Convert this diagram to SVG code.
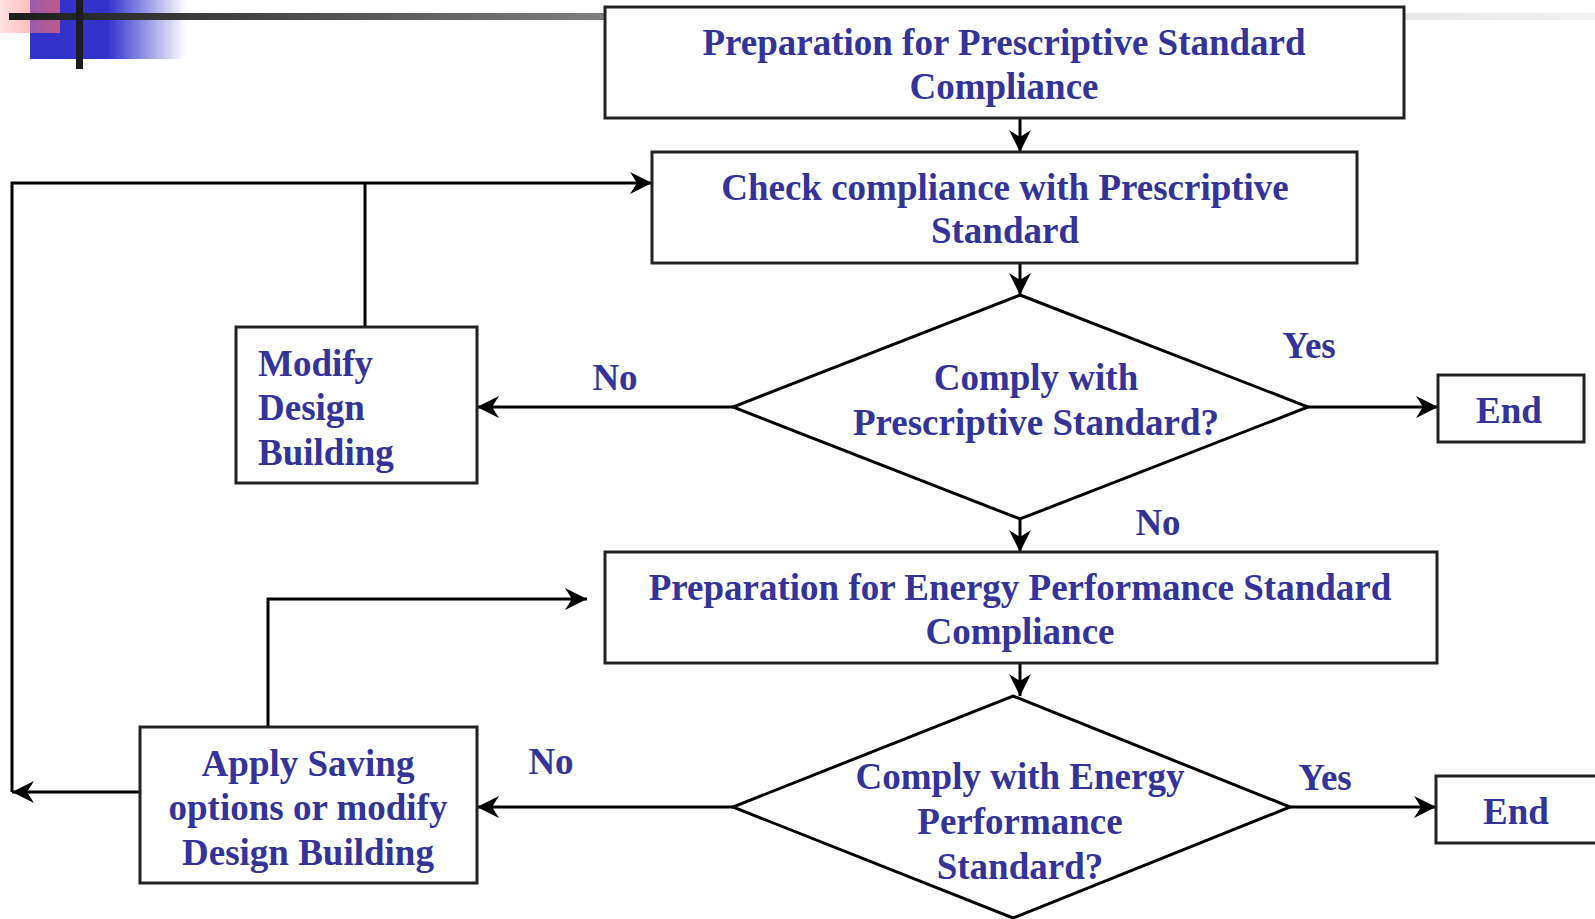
<svg xmlns="http://www.w3.org/2000/svg" width="1595" height="919" viewBox="0 0 1595 919">
  <style>
    .box { fill: #ffffff; stroke: #222222; stroke-width: 3; }
    .dia { fill: #ffffff; stroke: #000000; stroke-width: 3; stroke-linejoin: miter; }
    .wire { fill: none; stroke: #000000; stroke-width: 3; }
    .lbl { font-family: "Liberation Serif", "Times New Roman", serif; font-weight: bold; font-size: 37px; fill: #333399; }
    .mid { text-anchor: middle; }
  </style>
  <defs>
    <marker id="arrow" viewBox="0 0 22 22" refX="22" refY="11" markerWidth="22" markerHeight="22" markerUnits="userSpaceOnUse" orient="auto">
      <path d="M0,0 L22,11 L0,22 L7,11 Z" fill="#000000"/>
    </marker>
    <linearGradient id="barGrad" x1="0" y1="0" x2="1" y2="0">
      <stop offset="0" stop-color="#1c1c1c"/>
      <stop offset="0.38" stop-color="#808080"/>
      <stop offset="0.75" stop-color="#dcdcdc"/>
      <stop offset="1" stop-color="#f2f2f2"/>
    </linearGradient>
    <linearGradient id="blueGrad" x1="30" y1="0" x2="186" y2="0" gradientUnits="userSpaceOnUse">
      <stop offset="0" stop-color="#3333cc"/>
      <stop offset="0.5" stop-color="#3333cc"/>
      <stop offset="1" stop-color="#3333cc" stop-opacity="0"/>
    </linearGradient>
    <linearGradient id="pinkGrad" x1="0" y1="0" x2="60" y2="0" gradientUnits="userSpaceOnUse">
      <stop offset="0" stop-color="#ff9999" stop-opacity="0.3"/>
      <stop offset="1" stop-color="#ee6677" stop-opacity="0.75"/>
    </linearGradient>
  </defs>

  <!-- corner ornament -->
  <g id="ornament">
    <rect x="30" y="0" width="156" height="59" fill="url(#blueGrad)"/>
    <rect x="0" y="0" width="60" height="33" fill="url(#pinkGrad)"/>
    <rect x="9" y="13" width="1586" height="7" fill="url(#barGrad)"/>
    <rect x="76" y="0" width="7" height="69" fill="#1c1c1c"/>
  </g>

  <!-- connectors -->
  <g id="connectors">
    <line class="wire" x1="1020" y1="118" x2="1020" y2="152" marker-end="url(#arrow)"/>
    <line class="wire" x1="1020" y1="263" x2="1020" y2="295" marker-end="url(#arrow)"/>
    <line class="wire" x1="733" y1="407" x2="477" y2="407" marker-end="url(#arrow)"/>
    <line class="wire" x1="1308" y1="407" x2="1438" y2="407" marker-end="url(#arrow)"/>
    <line class="wire" x1="1020" y1="519" x2="1020" y2="552" marker-end="url(#arrow)"/>
    <line class="wire" x1="1020" y1="663" x2="1020" y2="696" marker-end="url(#arrow)"/>
    <line class="wire" x1="733" y1="807" x2="477" y2="807" marker-end="url(#arrow)"/>
    <line class="wire" x1="1290" y1="807" x2="1436" y2="807" marker-end="url(#arrow)"/>
    <!-- loop from Modify back to the check -->
    <polyline class="wire" points="365,327 365,183"/>
    <polyline class="wire" points="12,792 12,183 652,183" marker-end="url(#arrow)"/>
    <!-- loop from Apply back to energy preparation -->
    <polyline class="wire" points="268,727 268,599 587,599" marker-end="url(#arrow)"/>
    <!-- Apply out to the left return line -->
    <line class="wire" x1="140" y1="792" x2="12" y2="792" marker-end="url(#arrow)"/>
  </g>

  <g id="prep-prescriptive">
    <rect class="box" x="605" y="7" width="799" height="111"/>
    <text class="lbl mid" x="1004" y="55">Preparation for Prescriptive Standard</text>
    <text class="lbl mid" x="1004" y="99">Compliance</text>
  </g>

  <g id="check-prescriptive">
    <rect class="box" x="652" y="152" width="705" height="111"/>
    <text class="lbl mid" x="1005" y="200">Check compliance with Prescriptive</text>
    <text class="lbl mid" x="1005" y="243">Standard</text>
  </g>

  <g id="decision-prescriptive">
    <polygon class="dia" points="1020,295 1308,407 1020,519 733,407"/>
    <text class="lbl mid" x="1036" y="390">Comply with</text>
    <text class="lbl mid" x="1036" y="435">Prescriptive Standard?</text>
  </g>

  <g id="modify-design">
    <rect class="box" x="236" y="327" width="241" height="156"/>
    <text class="lbl" x="258" y="376">Modify</text>
    <text class="lbl" x="258" y="420">Design</text>
    <text class="lbl" x="258" y="465">Building</text>
  </g>

  <g id="end-1">
    <rect class="box" x="1438" y="375" width="146" height="67"/>
    <text class="lbl mid" x="1509" y="423">End</text>
  </g>

  <g id="prep-energy">
    <rect class="box" x="605" y="552" width="832" height="111"/>
    <text class="lbl mid" x="1020" y="600">Preparation for Energy Performance Standard</text>
    <text class="lbl mid" x="1020" y="644">Compliance</text>
  </g>

  <g id="decision-energy">
    <polygon class="dia" points="1013,696 1290,807 1013,918 733,807"/>
    <text class="lbl mid" x="1020" y="789">Comply with Energy</text>
    <text class="lbl mid" x="1020" y="834">Performance</text>
    <text class="lbl mid" x="1020" y="879">Standard?</text>
  </g>

  <g id="apply-saving">
    <rect class="box" x="140" y="727" width="337" height="156"/>
    <text class="lbl mid" x="308" y="776">Apply Saving</text>
    <text class="lbl mid" x="308" y="820">options or modify</text>
    <text class="lbl mid" x="308" y="865">Design Building</text>
  </g>

  <g id="end-2">
    <rect class="box" x="1436" y="776" width="170" height="67"/>
    <text class="lbl mid" x="1516" y="824">End</text>
  </g>

  <!-- branch labels -->
  <g id="labels">
    <text class="lbl mid" x="615" y="390">No</text>
    <text class="lbl mid" x="1309" y="358">Yes</text>
    <text class="lbl mid" x="1158" y="535">No</text>
    <text class="lbl mid" x="551" y="774">No</text>
    <text class="lbl mid" x="1325" y="790">Yes</text>
  </g>
</svg>
